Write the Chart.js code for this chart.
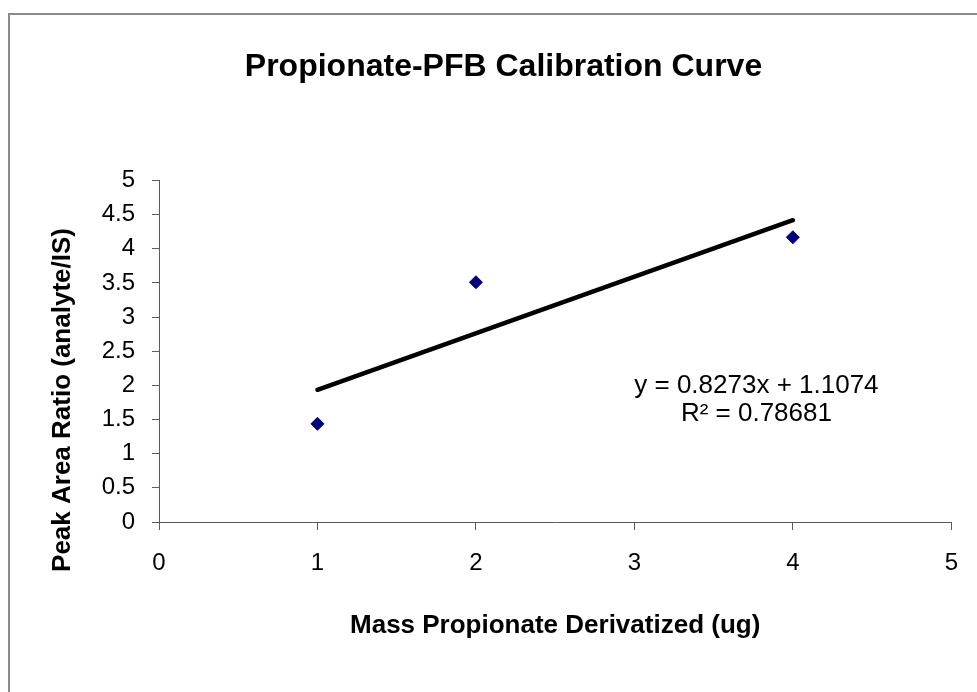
<!DOCTYPE html>
<html>
<head>
<meta charset="utf-8">
<script src="https://cdn.jsdelivr.net/npm/chart.js@4.4.1/dist/chart.umd.min.js"></script>
<style>
    html, body { margin: 0; padding: 0; background: #fff; overflow: hidden; }
    #frame { position: absolute; left: 8px; top: 13px; width: 1100px; height: 800px; border: 2px solid #8a8a8a; }
    #wrap { position: absolute; left: 0; top: 0; width: 977px; height: 692px; }
</style>
</head>
<body>
<div id="frame"></div>
<div id="wrap"><canvas id="calibChart"></canvas></div>
<script>
// measured points
const massUg = [1, 2, 4];
const peakRatio = [1.437, 3.509, 4.168];

// linear trendline, as drawn (y = 0.8273x + 1.1074)
const trendX = [1, 4];
const trendY = [1.935, 4.417];
const equationText = ['y = 0.8273x + 1.1074', 'R\u00b2 = 0.78681'];

const xTicks = [0, 1, 2, 3, 4, 5];
const yMax = 5;

const FONT = "'Liberation Sans', Arial, Helvetica, sans-serif";

// y axis title + equation drawn as text on the canvas
const extraText = {
    id: 'extraText',
    afterDraw(chart) {
        let ctx = chart.ctx;
        let xs = chart.scales.x;
        let ys = chart.scales.y;
        ctx.save();
        ctx.fillStyle = '#000';
        ctx.textAlign = 'center';
        ctx.textBaseline = 'middle';

        ctx.font = 'bold 26px ' + FONT;
        ctx.translate(63, 400);
        ctx.rotate(-Math.PI / 2);
        ctx.fillText('Peak Area Ratio (analyte/IS)', 0, 0);
        ctx.setTransform(1, 0, 0, 1, 0, 0);

        ctx.font = '26px ' + FONT;
        let ex = xs.getPixelForValue(3.77);
        ctx.fillText(equationText[0], ex, ys.getPixelForValue(2.0));
        ctx.fillText(equationText[1], ex, ys.getPixelForValue(1.58));
        ctx.restore();
    }
};

let ctx = document.getElementById('calibChart').getContext('2d');
window.calibChart = new Chart(ctx, {
    type: 'scatter',
    data: {
        datasets: [
            {
                label: 'Linear fit',
                data: trendX.map((x, i) => ({x: x, y: trendY[i]})),
                showLine: true,
                borderColor: '#000',
                borderWidth: 4.5,
                borderCapStyle: 'round',
                pointRadius: 0,
                fill: false,
                order: 2
            },
            {
                label: 'Propionate-PFB',
                data: massUg.map((x, i) => ({x: x, y: peakRatio[i]})),
                pointStyle: 'rectRot',
                pointRadius: 6.5,
                pointBackgroundColor: '#000080',
                pointBorderColor: '#000080',
                pointBorderWidth: 1,
                order: 1
            }
        ]
    },
    options: {
        responsive: true,
        maintainAspectRatio: false,
        animation: false,
        layout: {
            padding: {left: 54, right: 24, top: 0, bottom: 0}
        },
        plugins: {
            legend: {display: false},
            tooltip: {enabled: false},
            title: {
                display: true,
                text: 'Propionate-PFB Calibration Curve',
                color: '#000',
                font: {family: FONT, size: 32, weight: 'bold'},
                padding: {top: 48, bottom: 94}
            }
        },
        scales: {
            x: {
                type: 'linear',
                min: 0,
                max: xTicks[xTicks.length - 1],
                afterBuildTicks: (scale) => { scale.ticks = xTicks.map(v => ({value: v})); },
                afterFit: (scale) => { scale.height = 170; },
                grid: {drawOnChartArea: false, drawTicks: true, tickLength: 8, color: '#5a5a5a'},
                border: {display: true, color: '#5a5a5a', width: 1},
                ticks: {color: '#000', padding: 19, font: {family: FONT, size: 24}},
                title: {
                    display: true,
                    text: 'Mass Propionate Derivatized (ug)',
                    color: '#000',
                    font: {family: FONT, size: 26, weight: 'bold'},
                    padding: {top: 0, bottom: 51}
                }
            },
            y: {
                type: 'linear',
                min: 0,
                max: yMax,
                afterFit: (scale) => { scale.width = 105; },
                grid: {drawOnChartArea: false, drawTicks: true, tickLength: 7, color: '#5a5a5a'},
                border: {display: true, color: '#5a5a5a', width: 1},
                ticks: {
                    stepSize: 0.5,
                    color: '#000',
                    padding: 17,
                    font: {family: FONT, size: 24},
                    callback: (value) => String(value)
                }
            }
        }
    },
    plugins: [extraText]
});
</script>
</body>
</html>
